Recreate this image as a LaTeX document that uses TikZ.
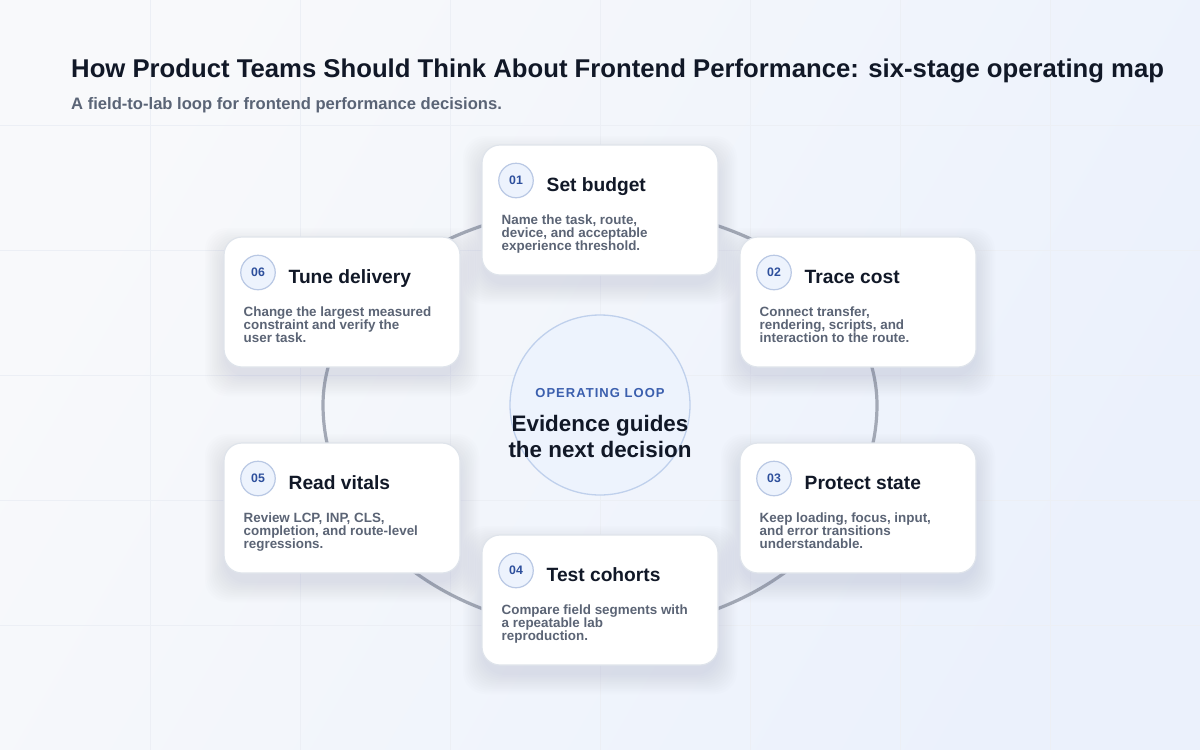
\documentclass[tikz,border=0pt]{standalone}
\usepackage{fontspec}
\setmainfont{Liberation Sans}
\usetikzlibrary{calc}
\definecolor{titlec}{HTML}{111827}
\definecolor{subc}{HTML}{5A6476}
\definecolor{bodyc}{HTML}{5B6475}
\definecolor{numc}{HTML}{2D4F9C}
\definecolor{badgefill}{HTML}{EDF3FD}
\definecolor{badgeline}{HTML}{B9C8E4}
\definecolor{loopc}{HTML}{3B5FAE}
\definecolor{ringc}{HTML}{A3A9B6}
\definecolor{cardline}{HTML}{DFE4EB}
\definecolor{shadowc}{HTML}{7F8FAE}
\definecolor{gridc}{HTML}{ECEFF5}
\definecolor{hubfill}{HTML}{EDF3FD}
\definecolor{hubline}{HTML}{BFD0EC}
\definecolor{bgA}{HTML}{F8F9FB}
\definecolor{bgB}{HTML}{EBF1FC}
\newcommand\stagecard[8]{%
  \foreach \k in {1,...,12}{%
    \node[shadowbox, minimum width={232+3.5*\k}, minimum height={126+3.5*\k}] (#1s\k) at (#2,#3+10) {};}
  \node[cardbox] (#1) at (#2,#3) {};
  \node[badge] (#1n) at ([shift={(34,35.5)}]#1.north west) {#4};
  \node[ttl] (#1t) at ([shift={(64.5,46)}]#1.north west) {#5};
  \node[bodytxt] (#1a) at ([shift={(19.5,79.5)}]#1.north west) {#6};
  \node[bodytxt] (#1b) at ([shift={(19.5,92.5)}]#1.north west) {#7};
  \node[bodytxt] (#1c) at ([shift={(19.5,105.5)}]#1.north west) {#8};
}
\begin{document}
\begin{tikzpicture}[x=1pt,y=-1pt,
  shadowbox/.style={rectangle, rounded corners=22pt, fill=shadowc, fill opacity=0.015, draw=none, inner sep=0, outer sep=0},
  cardbox/.style={rectangle, rounded corners=18pt, fill=white, draw=cardline, line width=1.2pt, minimum width=236, minimum height=130, inner sep=0, outer sep=0},
  badge/.style={circle, fill=badgefill, draw=badgeline, line width=1.2pt, minimum size=34.5, inner sep=0, text=numc, font=\bfseries\fontsize{12.3}{14}\selectfont},
  ttl/.style={anchor=base west, inner sep=0, text=titlec, font=\bfseries\fontsize{19.2}{22}\selectfont},
  bodytxt/.style={anchor=base west, inner sep=0, text=bodyc, font=\bfseries\fontsize{13.4}{13}\selectfont},
  ring/.style={draw=ringc, line width=3.2pt},
]
\useasboundingbox (0,0) rectangle (1200,750);
\shade[left color=bgA, right color=bgB, shading angle=60] (0,0) rectangle (1200,750);
\foreach \gx in {150,300,...,1050} \draw[gridc, line width=1pt] (\gx,0) -- (\gx,750);
\foreach \gy in {125,250,...,625} \draw[gridc, line width=1pt] (0,\gy) -- (1200,\gy);

\node[anchor=base west, inner sep=0, text=titlec, font=\bfseries\fontsize{25.7}{30}\selectfont] (title) at (71,77)
  {How Product Teams Should Think About Frontend Performance: six-stage operating map};
\node[anchor=base west, inner sep=0, text=subc, font=\bfseries\fontsize{16.6}{19}\selectfont] (subtitle) at (71,109)
  {A field-to-lab loop for frontend performance decisions.};

\draw[ring] plot[domain=0:360, samples=240, smooth] ({600+277*cos(\x)}, {405+((\x<180)*225+(\x>=180)*198)*sin(\x)}) -- cycle;

\node[circle, fill=hubfill, draw=hubline, line width=1.3pt, minimum size=180, inner sep=0] (hub) at (600,405) {};
\node[anchor=base, inner sep=0, text=loopc, font=\bfseries\fontsize{13}{15}\selectfont\addfontfeature{LetterSpace=8}] (hubk) at (600,397) {OPERATING LOOP};
\node[anchor=base, inner sep=0, text=titlec, font=\bfseries\fontsize{22.4}{26}\selectfont] (hub1) at (600,431) {Evidence guides};
\node[anchor=base, inner sep=0, text=titlec, font=\bfseries\fontsize{22.4}{26}\selectfont] (hub2) at (600,457) {the next decision};

\stagecard{c1}{600}{210}{01}{Set budget}{Name the task, route,}{device, and acceptable}{experience threshold.}
\stagecard{c2}{858}{302}{02}{Trace cost}{Connect transfer,}{rendering, scripts, and}{interaction to the route.}
\stagecard{c3}{858}{508}{03}{Protect state}{Keep loading, focus, input,}{and error transitions}{understandable.}
\stagecard{c4}{600}{600}{04}{Test cohorts}{Compare field segments with}{a repeatable lab}{reproduction.}
\stagecard{c5}{342}{508}{05}{Read vitals}{Review LCP, INP, CLS,}{completion, and route-level}{regressions.}
\stagecard{c6}{342}{302}{06}{Tune delivery}{Change the largest measured}{constraint and verify the}{user task.}
\end{tikzpicture}
\end{document}
